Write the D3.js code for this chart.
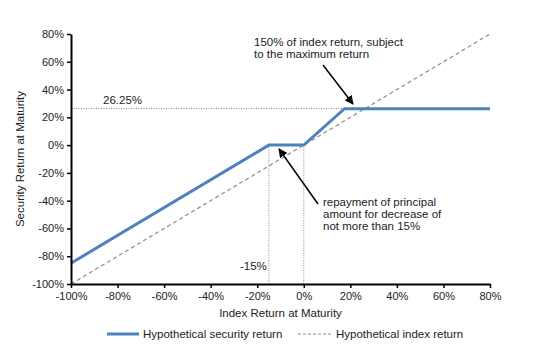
<!DOCTYPE html>
<html><head><meta charset="utf-8">
<script src="https://cdn.jsdelivr.net/npm/d3@7"></script>
<style>body{margin:0;background:#fff;} text{font-family:"Liberation Sans",Arial,sans-serif;}</style>
</head><body>
<svg id="c" width="554" height="353"></svg>
<script>
const xTicks = [-100,-80,-60,-40,-20,0,20,40,60,80];
const yTicks = [-100,-80,-60,-40,-20,0,20,40,60,80];
const securityX = [-100,-15,0,17.5,80];
const securityY = [-85,0,0,26.25,26.25];
const indexX = [-100,80];
const indexY = [-100,80];
const capValue = 26.25;
const capIndex = 17.5;
const floorIndex = -15;

const svg = d3.select("#c");
const x = d3.scaleLinear().domain([-100,80]).range([71,490]);
const y = d3.scaleLinear().domain([-100,80]).range([284,34]);
const fmt = d => d + "%";

// guides
svg.append("line").attr("x1",x(-100)).attr("x2",x(capIndex)).attr("y1",y(capValue)).attr("y2",y(capValue))
  .attr("stroke","#777").attr("stroke-width",1).attr("stroke-dasharray","1,1.5");
[floorIndex,0].forEach(v=>{
  svg.append("line").attr("x1",x(v)).attr("x2",x(v)).attr("y1",y(0)).attr("y2",y(-100))
    .attr("stroke","#888").attr("stroke-width",1).attr("stroke-dasharray","1,1.5");
});

const line = d3.line().x(d=>x(d[0])).y(d=>y(d[1]));
svg.append("path").datum(indexX.map((v,i)=>[v,indexY[i]])).attr("d",line)
  .attr("fill","none").attr("stroke","#8c8c8c").attr("stroke-width",1.2).attr("stroke-dasharray","4,3");
svg.append("path").datum(securityX.map((v,i)=>[v,securityY[i]])).attr("d",line)
  .attr("fill","none").attr("stroke","#4f81bd").attr("stroke-width",3);

// axes
const xa = svg.append("g").attr("transform",`translate(0,${y(-100)})`)
  .call(d3.axisBottom(x).tickValues(xTicks).tickFormat(fmt).tickSize(4).tickSizeOuter(0));
const ya = svg.append("g").attr("transform",`translate(${x(-100)},0)`)
  .call(d3.axisLeft(y).tickValues(yTicks).tickFormat(fmt).tickSize(4).tickSizeOuter(0));
[xa,ya].forEach(g=>{
  g.select(".domain").attr("stroke","#000").attr("stroke-width",2);
  g.selectAll(".tick line").attr("stroke","#000").attr("stroke-width",1.5);
  g.selectAll("text").attr("font-size",11).attr("fill","#222").style("font-family","Liberation Sans, Arial, sans-serif");
});
xa.selectAll("text").attr("dy","0.71em").attr("y",8);
ya.selectAll("text").attr("x",-7);

// axis titles
svg.append("text").attr("x",x(-10)).attr("y",317).attr("text-anchor","middle").attr("font-size",11.5).attr("fill","#222").text("Index Return at Maturity");
svg.append("text").attr("transform",`translate(24,${y(-10)}) rotate(-90)`).attr("text-anchor","middle").attr("font-size",11.5).attr("fill","#222").text("Security Return  at Maturity");

// labels
svg.append("text").attr("x",103).attr("y",104).attr("font-size",11.5).attr("fill","#222").text("26.25%");
svg.append("text").attr("x",240).attr("y",270).attr("font-size",11.5).attr("fill","#222").text("-15%");
const t1 = svg.append("text").attr("font-size",11.5).attr("fill","#222");
t1.append("tspan").attr("x",254).attr("y",46).text("150% of index return, subject");
t1.append("tspan").attr("x",254).attr("y",58).text("to the maximum  return");
const t2 = svg.append("text").attr("font-size",11.5).attr("fill","#222");
t2.append("tspan").attr("x",323).attr("y",206).text("repayment of principal");
t2.append("tspan").attr("x",323).attr("y",218).text("amount  for decrease of");
t2.append("tspan").attr("x",323).attr("y",230).text("not more than  15%");

// arrows
const defs = svg.append("defs");
defs.append("marker").attr("id","ah").attr("viewBox","0 0 10 10").attr("refX",9).attr("refY",5)
  .attr("markerWidth",6).attr("markerHeight",6).attr("orient","auto")
  .append("path").attr("d","M0,0 L10,5 L0,10 z").attr("fill","#000");
svg.append("line").attr("x1",323).attr("y1",65).attr("x2",353).attr("y2",104).attr("stroke","#000").attr("stroke-width",1.5).attr("marker-end","url(#ah)");
svg.append("line").attr("x1",318).attr("y1",204).attr("x2",279).attr("y2",149).attr("stroke","#000").attr("stroke-width",1.5).attr("marker-end","url(#ah)");

// legend
svg.append("line").attr("x1",107).attr("x2",139).attr("y1",334).attr("y2",334).attr("stroke","#4f81bd").attr("stroke-width",3);
svg.append("text").attr("x",143).attr("y",338).attr("font-size",11.5).attr("fill","#222").text("Hypothetical security return");
svg.append("line").attr("x1",298).attr("x2",333).attr("y1",334).attr("y2",334).attr("stroke","#8c8c8c").attr("stroke-width",1.2).attr("stroke-dasharray","3,2");
svg.append("text").attr("x",336).attr("y",338).attr("font-size",11.5).attr("fill","#222").text("Hypothetical index return");
</script>
</body></html>
